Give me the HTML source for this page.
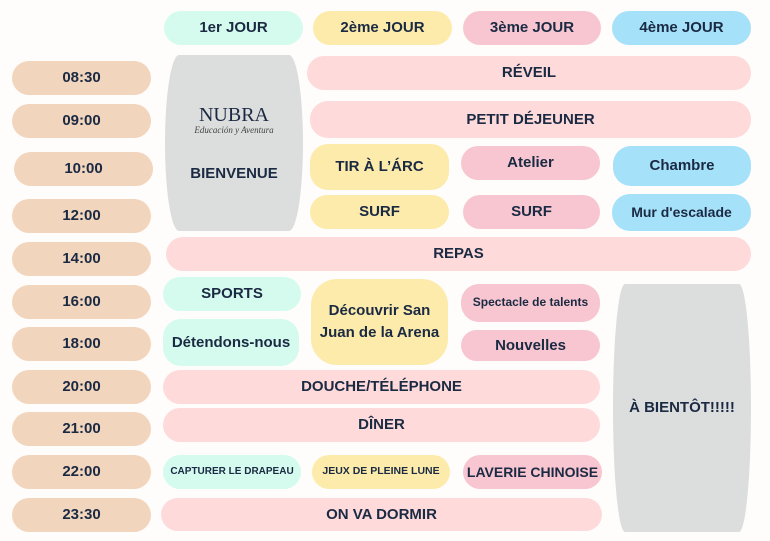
<!DOCTYPE html>
<html><head><meta charset="utf-8"><style>
body{margin:0;width:770px;height:541px;background:#fffdfc;position:relative;overflow:hidden;font-family:"Liberation Sans","DejaVu Sans",sans-serif;}
.b{position:absolute;display:flex;align-items:center;justify-content:center;text-align:center;font-weight:bold;color:#1b2a43;font-size:15px;border-radius:18px;line-height:1.45;white-space:nowrap;}
.t{background:#f2d5bd;}
.m{background:#d4fbee;}
.y{background:#fcebaa;}
.p{background:#f7c6d0;}
.u{background:#a6e1fa;}
.r{background:#fedada;}
.g{background:#dcdedd;border-radius:14px / 50%;}
.s{font-size:11px;}
</style></head><body>
<div class="b m" style="left:164px;top:11px;width:139px;height:34px">1er JOUR</div>
<div class="b y" style="left:313px;top:11px;width:139px;height:34px">2ème JOUR</div>
<div class="b p" style="left:463px;top:11px;width:138px;height:34px">3ème JOUR</div>
<div class="b u" style="left:612px;top:11px;width:139px;height:34px">4ème JOUR</div>

<div class="b t" style="left:12px;top:61px;width:139px;height:34px">08:30</div>
<div class="b t" style="left:12px;top:104px;width:139px;height:34px">09:00</div>
<div class="b t" style="left:14px;top:152px;width:139px;height:34px">10:00</div>
<div class="b t" style="left:12px;top:199px;width:139px;height:34px">12:00</div>
<div class="b t" style="left:12px;top:242px;width:139px;height:34px">14:00</div>
<div class="b t" style="left:12px;top:285px;width:139px;height:34px">16:00</div>
<div class="b t" style="left:12px;top:327px;width:139px;height:34px">18:00</div>
<div class="b t" style="left:12px;top:370px;width:139px;height:34px">20:00</div>
<div class="b t" style="left:12px;top:412px;width:139px;height:34px">21:00</div>
<div class="b t" style="left:12px;top:455px;width:139px;height:34px">22:00</div>
<div class="b t" style="left:12px;top:498px;width:139px;height:34px">23:30</div>

<div class="b g" style="left:165px;top:55px;width:138px;height:176px;flex-direction:column;justify-content:flex-start">
<div style="margin-top:50px;font-family:'Liberation Serif',serif;font-weight:normal;font-size:20px;line-height:1">NUBRA</div>
<div style="font-family:'Liberation Serif',serif;font-weight:normal;font-size:9px;font-style:italic;color:#444;line-height:1.3">Educación y Aventura</div>
<div style="margin-top:26px">BIENVENUE</div>
</div>

<div class="b r" style="left:307px;top:56px;width:444px;height:34px">RÉVEIL</div>
<div class="b r" style="left:310px;top:101px;width:441px;height:37px">PETIT DÉJEUNER</div>
<div class="b y" style="left:310px;top:144px;width:139px;height:46px">TIR À L’ÁRC</div>
<div class="b p" style="left:461px;top:146px;width:139px;height:34px">Atelier</div>
<div class="b u" style="left:613px;top:146px;width:138px;height:40px">Chambre</div>
<div class="b y" style="left:310px;top:195px;width:139px;height:34px">SURF</div>
<div class="b p" style="left:463px;top:195px;width:137px;height:34px">SURF</div>
<div class="b u" style="left:612px;top:194px;width:139px;height:37px;font-size:14px">Mur d'escalade</div>
<div class="b r" style="left:166px;top:237px;width:585px;height:34px">REPAS</div>

<div class="b m" style="left:163px;top:277px;width:138px;height:34px">SPORTS</div>
<div class="b m" style="left:163px;top:319px;width:136px;height:47px">Détendons-nous</div>
<div class="b y" style="left:311px;top:279px;width:137px;height:86px;border-radius:26px">Découvrir San<br>Juan de la Arena</div>
<div class="b p" style="left:461px;top:284px;width:139px;height:38px;font-size:12px">Spectacle de talents</div>
<div class="b p" style="left:461px;top:330px;width:139px;height:31px">Nouvelles</div>
<div class="b g" style="left:613px;top:284px;width:138px;height:248px;border-radius:12px / 50%">À BIENTÔT!!!!!</div>

<div class="b r" style="left:163px;top:370px;width:437px;height:34px">DOUCHE/TÉLÉPHONE</div>
<div class="b r" style="left:163px;top:408px;width:437px;height:34px">DÎNER</div>
<div class="b m s" style="left:163px;top:455px;width:138px;height:34px;font-size:10px">CAPTURER LE DRAPEAU</div>
<div class="b y s" style="left:312px;top:455px;width:138px;height:34px;font-size:10.5px">JEUX DE PLEINE LUNE</div>
<div class="b p" style="left:463px;top:455px;width:139px;height:34px;font-size:14px">LAVERIE CHINOISE</div>
<div class="b r" style="left:161px;top:498px;width:441px;height:33px">ON VA DORMIR</div>
</body></html>
